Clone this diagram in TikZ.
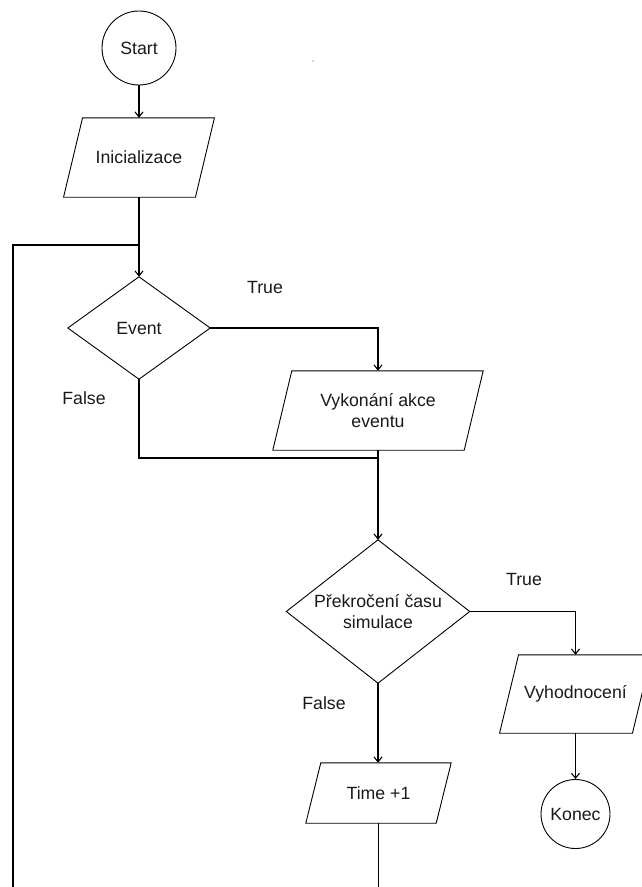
\documentclass[tikz,border=0pt]{standalone}
\usepackage{fontspec}
\setmainfont{Liberation Sans}
\usetikzlibrary{arrows.meta,calc}
\begin{document}
\begin{tikzpicture}[x=1pt,y=-1pt,
  every node/.style={font=\fontsize{17.7}{21.7}\selectfont, text=black!90},
  pbox/.style={draw=none, inner sep=0pt, align=center},
  circ/.style={draw, circle, line width=0.9pt, inner sep=0pt},
  outline/.style={line width=0.9pt, line join=miter},
  conn/.style={line width=1.1pt},
  arr/.style={conn, -{Straight Barb[length=5pt,width=8pt]}},
  lbl/.style={inner sep=0pt}
]
\useasboundingbox (0,0) rectangle (641,887);

% Start
\node[circ, minimum size=74pt] (start) at (139,48) {Start};

% Inicializace
\node[pbox, minimum width=131.5pt, minimum height=79pt] (ini) at (139,157.5) {Inicializace};
\draw[outline] ([xshift=9.5pt]ini.north west) -- ([xshift=9.5pt]ini.north east)
  -- ([xshift=-9.5pt]ini.south east) -- ([xshift=-9.5pt]ini.south west) -- cycle;

% Event diamond
\node[pbox, minimum width=142pt, minimum height=102pt] (ev) at (139,328) {Event};
\draw[outline] (ev.north) -- (ev.east) -- (ev.south) -- (ev.west) -- cycle;

% Vykonani akce eventu
\node[pbox, minimum width=191pt, minimum height=79pt] (vyk) at (378,410.5) {Vykonání akce\\eventu};
\draw[outline] ([xshift=9.5pt]vyk.north west) -- ([xshift=9.5pt]vyk.north east)
  -- ([xshift=-9.5pt]vyk.south east) -- ([xshift=-9.5pt]vyk.south west) -- cycle;

% Prekroceni casu simulace diamond
\node[pbox, minimum width=183pt, minimum height=143pt] (sim) at (378,611.5) {Překročení času\\simulace};
\draw[outline] (sim.north) -- (sim.east) -- (sim.south) -- (sim.west) -- cycle;

% Vyhodnoceni
\node[pbox, minimum width=132.5pt, minimum height=78pt] (vyh) at (575.5,694) {Vyhodnocení};
\draw[outline] ([xshift=9.5pt]vyh.north west) -- ([xshift=9.5pt]vyh.north east)
  -- ([xshift=-9.5pt]vyh.south east) -- ([xshift=-9.5pt]vyh.south west) -- cycle;

% Konec
\node[circ, minimum size=69pt] (konec) at (575.5,814) {Konec};

% Time +1
\node[pbox, minimum width=130pt, minimum height=60pt] (time) at (378.5,793) {Time +1};
\draw[outline] ([xshift=7.5pt]time.north west) -- ([xshift=7.5pt]time.north east)
  -- ([xshift=-7.5pt]time.south east) -- ([xshift=-7.5pt]time.south west) -- cycle;

% Labels
\node[lbl] (t1) at (265,287) {True};
\node[lbl] (f1) at (84,398) {False};
\node[lbl] (t2) at (524,579) {True};
\node[lbl] (f2) at (324,703) {False};

% helper coordinates
\coordinate (loopjoin) at (139,245);
\coordinate (loopleft) at (13,245);
\coordinate (loopbottom) at (13,887);
\coordinate (timebottom) at (378.5,887);
\coordinate (merge) at (378,458);
\coordinate (mergeend) at (378,493);

% Connectors
\draw[arr] (start.south) -- (ini.north);
\draw[arr] (ini.south) -- (ev.north);
\draw[conn] (loopbottom) -- (loopleft) -- (loopjoin);
\draw[arr] (ev.east) -| (vyk.north);
\draw[conn] (ev.south) |- (merge);
\draw[conn, line width=2.4pt] (merge) -- (mergeend);
\draw[arr] (vyk.south) -- (sim.north);
\draw[arr] (sim.east) -| (vyh.north);
\draw[arr] (vyh.south) -- (konec.north);
\draw[arr] (sim.south) -- (sim.south |- time.north);
\draw[conn] (time.south) -- (timebottom);

% stray dot
\fill[black!70] (313,61) circle (0.7);
\end{tikzpicture}
\end{document}
